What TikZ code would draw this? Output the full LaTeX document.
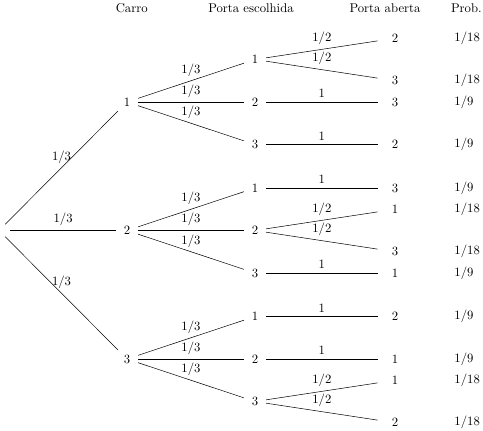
\documentclass[tikz,border=0pt]{standalone}
\usepackage{amsmath,amssymb}
\usepackage{tikz}
\usetikzlibrary{positioning}

\begin{document}
\begin{tikzpicture}[
  x=0.787pt, y=-0.787pt,
  num/.style={minimum width=17pt, minimum height=14pt, inner sep=0pt},
  leaf/.style={minimum width=27pt, minimum height=14pt, inner sep=0pt},
  prob/.style={inner sep=0pt, right=32.9pt of #1},
  head/.style={anchor=base},
  lbl/.style={midway, above}
]
  \useasboundingbox (0,0) rectangle (483,430);

  % column titles
  \node[head] (hc) at (131.7,12.7) {Carro};
  \node[head] (he) at (251,12.7) {Porta escolhida};
  \node[head] (ha) at (385,12.7) {Porta aberta};
  \node[head] (hp) at (466.3,12.7) {Prob.};

  % root and car position
  \node[minimum width=17.3pt, minimum height=9.4pt, inner sep=0pt] (o) at (-1,230.5) {};
  \node[num] (c1) at (127,102) {1};
  \node[num] (c2) at (127,230.5) {2};
  \node[num] (c3) at (127,359) {3};

  % chosen door
  \node[num] (e11) at (255,59.5) {1};
  \node[num] (e12) at (255,102) {2};
  \node[num] (e13) at (255,144.5) {3};
  \node[num] (e21) at (255,188) {1};
  \node[num] (e22) at (255,230.5) {2};
  \node[num] (e23) at (255,273) {3};
  \node[num] (e31) at (255,316.5) {1};
  \node[num] (e32) at (255,359) {2};
  \node[num] (e33) at (255,401.5) {3};

  % opened door
  \node[leaf] (a112) at (395,38.25) {2};
  \node[leaf] (a113) at (395,80.75) {3};
  \node[leaf] (a123) at (395,102) {3};
  \node[leaf] (a132) at (395,144.5) {2};
  \node[leaf] (a213) at (395,188) {3};
  \node[leaf] (a221) at (395,209.25) {1};
  \node[leaf] (a223) at (395,251.75) {3};
  \node[leaf] (a231) at (395,273) {1};
  \node[leaf] (a312) at (395,316.5) {2};
  \node[leaf] (a321) at (395,359) {1};
  \node[leaf] (a331) at (395,380.25) {1};
  \node[leaf] (a332) at (395,422.75) {2};

  % probabilities
  \node[prob=a112] (p112) {$1/18$};
  \node[prob=a113] (p113) {$1/18$};
  \node[prob=a123] (p123) {$1/9$};
  \node[prob=a132] (p132) {$1/9$};
  \node[prob=a213] (p213) {$1/9$};
  \node[prob=a221] (p221) {$1/18$};
  \node[prob=a223] (p223) {$1/18$};
  \node[prob=a231] (p231) {$1/9$};
  \node[prob=a312] (p312) {$1/9$};
  \node[prob=a321] (p321) {$1/9$};
  \node[prob=a331] (p331) {$1/18$};
  \node[prob=a332] (p332) {$1/18$};

  \draw (o) -- node[lbl]{$1/3$} (c1);
  \draw (o) -- node[lbl]{$1/3$} (c2);
  \draw (o) -- node[lbl]{$1/3$} (c3);

  \draw (c1) -- node[lbl]{$1/3$} (e11);
  \draw (c1) -- node[lbl]{$1/3$} (e12);
  \draw (c1) -- node[lbl]{$1/3$} (e13);
  \draw (c2) -- node[lbl]{$1/3$} (e21);
  \draw (c2) -- node[lbl]{$1/3$} (e22);
  \draw (c2) -- node[lbl]{$1/3$} (e23);
  \draw (c3) -- node[lbl]{$1/3$} (e31);
  \draw (c3) -- node[lbl]{$1/3$} (e32);
  \draw (c3) -- node[lbl]{$1/3$} (e33);

  \draw (e11) -- node[lbl]{$1/2$} (a112);
  \draw (e11) -- node[lbl]{$1/2$} (a113);
  \draw (e12) -- node[lbl]{$1$} (a123);
  \draw (e13) -- node[lbl]{$1$} (a132);
  \draw (e21) -- node[lbl]{$1$} (a213);
  \draw (e22) -- node[lbl]{$1/2$} (a221);
  \draw (e22) -- node[lbl]{$1/2$} (a223);
  \draw (e23) -- node[lbl]{$1$} (a231);
  \draw (e31) -- node[lbl]{$1$} (a312);
  \draw (e32) -- node[lbl]{$1$} (a321);
  \draw (e33) -- node[lbl]{$1/2$} (a331);
  \draw (e33) -- node[lbl]{$1/2$} (a332);
\end{tikzpicture}
\end{document}
